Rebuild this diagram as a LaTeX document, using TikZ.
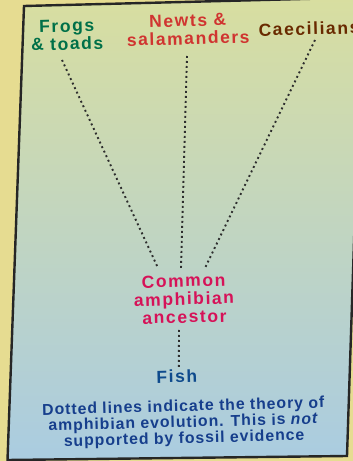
\documentclass[tikz,border=0pt]{standalone}
\usepackage{fontspec}
\setmainfont{Liberation Sans}
\newfontfamily\taxfont[LetterSpace=9]{Liberation Sans}
\newfontfamily\notefont[LetterSpace=6]{Liberation Sans}
\usepackage{tikz}
\usetikzlibrary{positioning,calc}
\definecolor{cBack}{RGB}{230,220,145}
\definecolor{cTop}{RGB}{216,222,160}
\definecolor{cBottom}{RGB}{170,204,225}
\definecolor{cFrog}{RGB}{0,112,72}
\definecolor{cNewt}{RGB}{208,52,48}
\definecolor{cCaec}{RGB}{105,42,0}
\definecolor{cAnc}{RGB}{214,18,88}
\definecolor{cFish}{RGB}{14,74,140}
\definecolor{cNote}{RGB}{22,62,140}
\definecolor{cDots}{RGB}{45,45,45}
\tikzset{
  taxon/.style={font=\taxfont\bfseries\fontsize{17.5}{18}\selectfont,
                align=center, inner sep=1pt, rotate=1.5},
  note/.style={font=\notefont\bfseries\fontsize{15.8}{16}\selectfont,
               align=center, inner sep=1pt, rotate=1.5, text=cNote},
  lineage/.style={draw=cDots, line width=1.9pt, dash pattern=on 1.9pt off 3.1pt},
  card/.style={draw=black!85, line width=2.4pt, top color=cTop, bottom color=cBottom},
}

\begin{document}
\begin{tikzpicture}[x=1pt, y=1pt]
  \useasboundingbox (0,0) rectangle (353,461);
  \fill[cBack] (0,0) rectangle (353,461);
  \path[card] (7.5,1) -- (24,455) -- (362,463.5) -- (347,5) -- cycle;

  % living groups
  \node[taxon, text=cFrog] (frogs) at (67,426) {Frogs\\\& toads};
  \node[taxon, text=cNewt] (newts) at (188,431.5) {Newts \&\\salamanders};
  \node[taxon, text=cCaec] (caec)  at (309,432.5) {Caecilians};

  % ancestors
  \node[taxon, text=cAnc] (anc) at (184,162) {Common\\amphibian\\ancestor};
  \node[taxon, text=cFish, below=44pt of anc, xshift=-8pt] (fish) {Fish};
  \node[note, below=15pt of fish, xshift=6pt] (remark)
    {Dotted lines indicate the theory of\\amphibian evolution. This is \textit{not}\\supported by fossil evidence};

  \draw[lineage] ($(frogs.center)+(-5,-25)$) -- ($(anc.center)+(-26,31)$);
  \draw[lineage] ($(newts.center)+(-1,-26.5)$) -- ($(anc.center)+(-3,31)$);
  \draw[lineage] ($(caec.center)+(6,-11.5)$) -- ($(anc.center)+(21,31)$);
  \draw[lineage] ($(anc.center)+(-5,-31)$) -- ($(fish.center)+(2,8.5)$);
\end{tikzpicture}
\end{document}
